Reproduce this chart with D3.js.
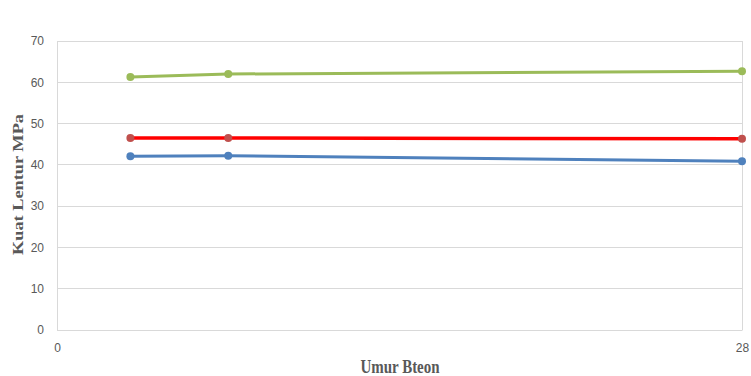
<!DOCTYPE html>
<html>
<head>
<meta charset="utf-8">
<script src="https://cdn.jsdelivr.net/npm/d3@7"></script>
<style>
  html, body { margin: 0; padding: 0; background: #fff; }
  svg { display: block; }
</style>
</head>
<body>
<svg id="chart" width="751" height="376"></svg>
<script>
// Flexural strength (MPa) by concrete age (days)
const ages = [3, 7, 28];
const seriesGreen = [61.3, 62.0, 62.7];
const seriesRed = [46.5, 46.5, 46.3];
const seriesBlue = [42.1, 42.2, 40.9];
const yTicks = [0, 10, 20, 30, 40, 50, 60, 70];
const xTicks = [0, 28];

const series = [
  { values: seriesGreen, line: "#9bbb59", dot: "#9bbb59", width: 3 },
  { values: seriesRed, line: "#ff0000", dot: "#c0504d", width: 3.5 },
  { values: seriesBlue, line: "#4f81bd", dot: "#4f81bd", width: 3 }
];

const svg = d3.select("#chart");
const margin = { left: 57, right: 9, top: 41, bottom: 46 };
const W = 751, H = 376;

const x = d3.scaleLinear().domain([0, 28]).range([margin.left, W - margin.right]);
const y = d3.scaleLinear().domain([0, 70]).range([H - margin.bottom, margin.top]);

// horizontal gridlines
svg.append("g")
  .selectAll("line")
  .data(yTicks)
  .join("line")
  .attr("x1", x(0)).attr("x2", x(28))
  .attr("y1", d => y(d)).attr("y2", d => y(d))
  .attr("stroke", "#d9d9d9").attr("stroke-width", 1)
  .attr("shape-rendering", "crispEdges");

// vertical gridlines at x ticks
svg.append("g")
  .selectAll("line")
  .data(xTicks)
  .join("line")
  .attr("x1", d => x(d)).attr("x2", d => x(d))
  .attr("y1", y(0)).attr("y2", y(70))
  .attr("stroke", "#d9d9d9").attr("stroke-width", 1)
  .attr("shape-rendering", "crispEdges");

// y axis
const yAxis = svg.append("g")
  .attr("transform", `translate(${x(0)},0)`)
  .call(d3.axisLeft(y).tickValues(yTicks).tickSize(0).tickPadding(13));
yAxis.select(".domain").attr("stroke", "#d9d9d9");
yAxis.selectAll("text")
  .attr("fill", "#595959")
  .style("font-family", "'Liberation Sans', Arial, sans-serif")
  .style("font-size", "12px");

// x axis
const xAxis = svg.append("g")
  .attr("transform", `translate(0,${y(0)})`)
  .call(d3.axisBottom(x).tickValues(xTicks).tickSize(0).tickPadding(13));
xAxis.select(".domain").attr("stroke", "#d9d9d9");
xAxis.selectAll("text")
  .attr("fill", "#595959")
  .style("font-family", "'Liberation Sans', Arial, sans-serif")
  .style("font-size", "12px");

// lines and markers
const line = d3.line().x((d, i) => x(ages[i])).y(d => y(d));
series.forEach(s => {
  svg.append("path")
    .datum(s.values)
    .attr("fill", "none")
    .attr("stroke", s.line)
    .attr("stroke-width", s.width)
    .attr("stroke-linecap", "round")
    .attr("d", line);
  svg.append("g")
    .selectAll("circle")
    .data(s.values)
    .join("circle")
    .attr("cx", (d, i) => x(ages[i]))
    .attr("cy", d => y(d))
    .attr("r", 4)
    .attr("fill", s.dot);
});

// axis titles (tall, narrow serif lettering)
svg.append("text")
  .attr("transform", `translate(23,${(y(0) + y(70)) / 2 - 1}) rotate(-90) scale(1.22,1)`)
  .attr("text-anchor", "middle")
  .attr("fill", "#595959")
  .style("font-family", "'Liberation Serif', 'Times New Roman', serif")
  .style("font-weight", "bold")
  .style("font-size", "15px")
  .text("Kuat Lentur MPa");

svg.append("text")
  .attr("transform", "translate(400,373) scale(1,1.2)")
  .attr("text-anchor", "middle")
  .attr("fill", "#595959")
  .style("font-family", "'Liberation Serif', 'Times New Roman', serif")
  .style("font-weight", "bold")
  .style("font-size", "15px")
  .text("Umur Bteon");
</script>
</body>
</html>
